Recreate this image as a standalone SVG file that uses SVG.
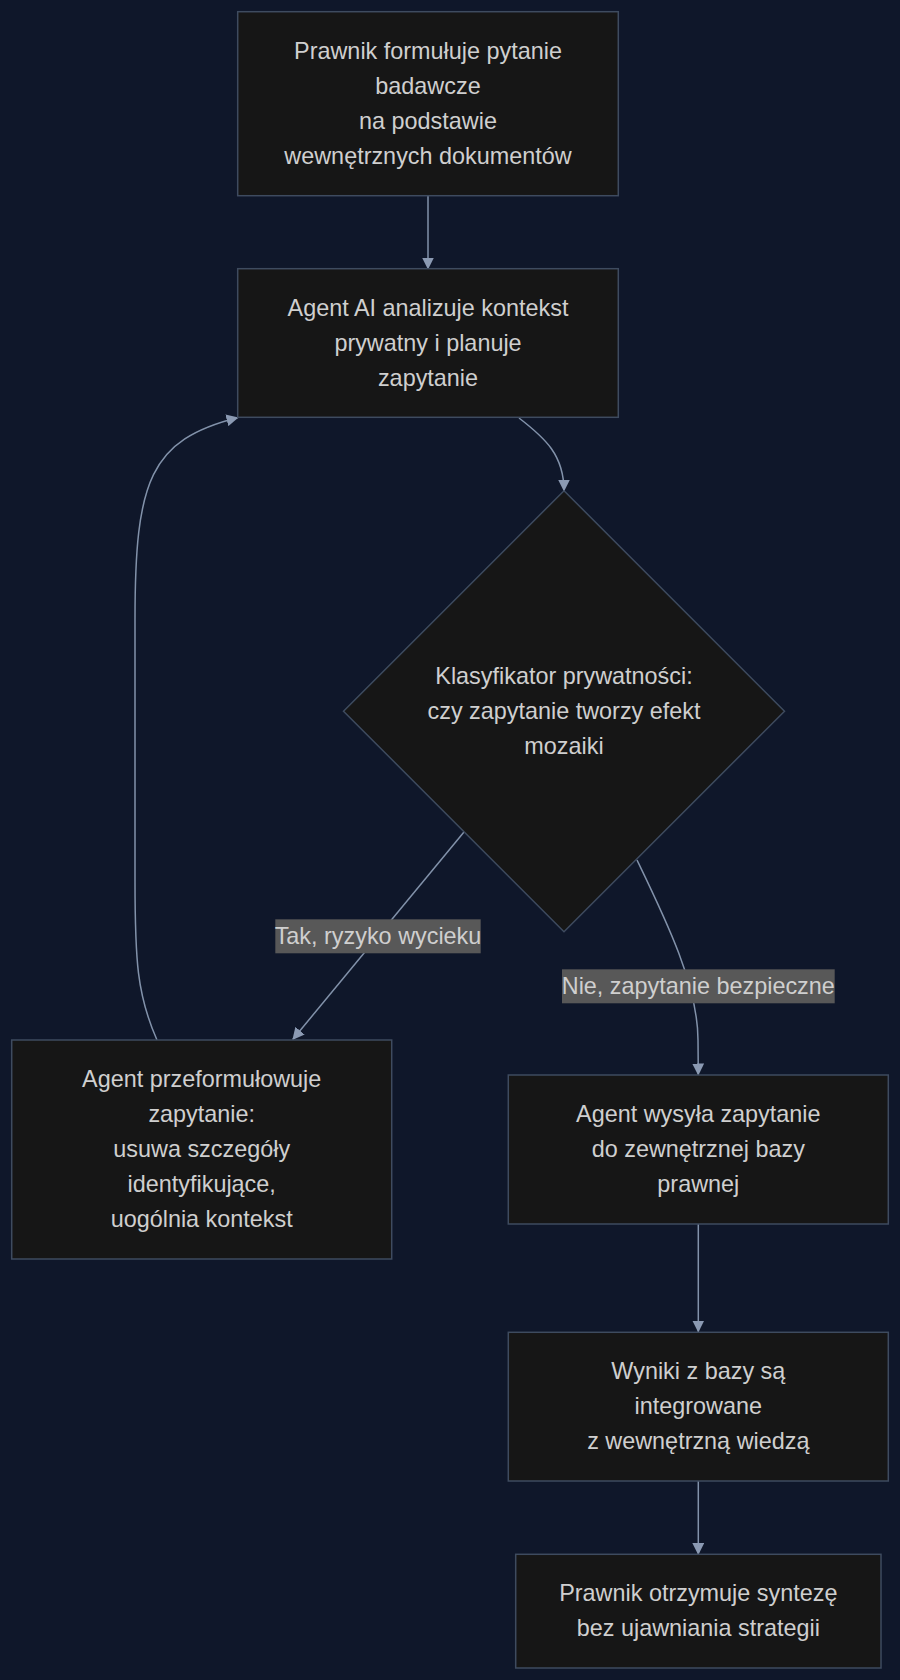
<svg xmlns="http://www.w3.org/2000/svg" width="900" height="1680" viewBox="0 0 900 1680">
  <defs>
    <marker id="arrow" markerUnits="userSpaceOnUse" markerWidth="12" markerHeight="12" viewBox="0 0 12 12" refX="11.5" refY="6" orient="auto">
      <path d="M0,0 L12,6 L0,12 z" fill="#8b9ab3"/>
    </marker>
    <style>
      .node rect, .node polygon { fill: #161616; stroke: #3e4b5f; stroke-width: 1.5; }
      .node text, .lbl text { font-family: "Liberation Sans", Arial, sans-serif; font-size: 23.4px; fill: #cfcfcf; text-anchor: middle; }
      .edge { fill: none; stroke: #8292aa; stroke-width: 1.5; marker-end: url(#arrow); }
      .lbl rect { fill: #585858; }
    </style>
  </defs>
  <rect x="0" y="0" width="900" height="1680" fill="#0f172a"/>

  <g id="connectors">
    <path class="edge" d="M428,196 L428,269"/>
    <path class="edge" d="M519,418 C545,438 564,455 564,491"/>
    <path class="edge" d="M464,832 L292.7,1039.5"/>
    <path class="edge" d="M637,860 C665,918 698,985 698,1040 L698.3,1075"/>
    <path class="edge" d="M157,1040 C137,995 135,960 135,880 L135,620 C135,480 150,440 238,417.5"/>
    <path class="edge" d="M698.3,1224 L698.3,1332"/>
    <path class="edge" d="M698.3,1481 L698.3,1554.5"/>
    <g class="lbl" id="label-tak">
      <rect x="275.3" y="919.3" width="205.4" height="34"/>
      <text x="378" y="943.5">Tak, ryzyko wycieku</text>
    </g>
    <g class="lbl" id="label-nie">
      <rect x="562" y="969.3" width="272.7" height="34"/>
      <text x="698.3" y="993.5">Nie, zapytanie bezpieczne</text>
    </g>
  </g>

  <g class="node" id="n1">
    <rect x="237.7" y="11.7" width="380.6" height="184"/>
    <text x="428" y="58.5">Prawnik formułuje pytanie</text>
    <text x="428" y="93.5">badawcze</text>
    <text x="428" y="128.5">na podstawie</text>
    <text x="428" y="163.5">wewnętrznych dokumentów</text>
  </g>

  <g class="node" id="n2">
    <rect x="237.7" y="268.7" width="380.6" height="148.6"/>
    <text x="428" y="315.5">Agent AI analizuje kontekst</text>
    <text x="428" y="350.5">prywatny i planuje</text>
    <text x="428" y="385.5">zapytanie</text>
  </g>

  <g class="node" id="n3">
    <polygon points="564,490.7 784.5,711.2 564,931.7 343.5,711.2"/>
    <text x="564" y="684">Klasyfikator prywatności:</text>
    <text x="564" y="719">czy zapytanie tworzy efekt</text>
    <text x="564" y="754">mozaiki</text>
  </g>

  <g class="node" id="n4">
    <rect x="11.7" y="1040" width="380" height="219"/>
    <text x="201.7" y="1087">Agent przeformułowuje</text>
    <text x="201.7" y="1122">zapytanie:</text>
    <text x="201.7" y="1157">usuwa szczegóły</text>
    <text x="201.7" y="1192">identyfikujące,</text>
    <text x="201.7" y="1227">uogólnia kontekst</text>
  </g>

  <g class="node" id="n5">
    <rect x="508.3" y="1075" width="380" height="149"/>
    <text x="698.3" y="1122">Agent wysyła zapytanie</text>
    <text x="698.3" y="1157">do zewnętrznej bazy</text>
    <text x="698.3" y="1192">prawnej</text>
  </g>

  <g class="node" id="n6">
    <rect x="508.3" y="1332.3" width="380" height="148.7"/>
    <text x="698.3" y="1379">Wyniki z bazy są</text>
    <text x="698.3" y="1414">integrowane</text>
    <text x="698.3" y="1449">z wewnętrzną wiedzą</text>
  </g>

  <g class="node" id="n7">
    <rect x="515.7" y="1554.3" width="365.3" height="113.7"/>
    <text x="698.3" y="1600.5">Prawnik otrzymuje syntezę</text>
    <text x="698.3" y="1635.5">bez ujawniania strategii</text>
  </g>
</svg>
